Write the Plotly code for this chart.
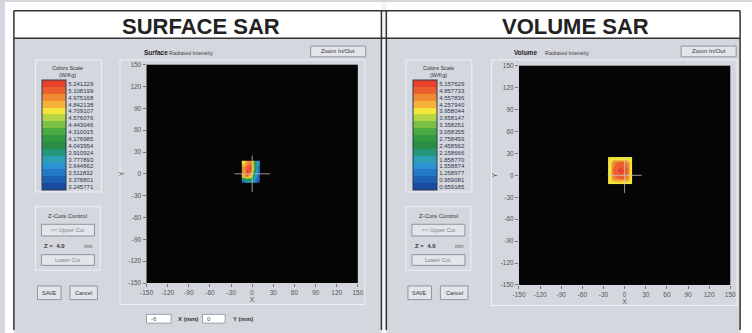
import plotly.graph_objects as go

W, H = 752, 333

# ---------------- data ----------------
surface_x = [-12.2, -7.2, -2.2, 2.8, 7.8]
surface_y = [-9, -3, 3, 9, 15]
surface_z = [
    [3.40, 3.70, 3.95, 3.60, 3.30],
    [4.85, 5.05, 4.65, 3.90, 3.40],
    [4.95, 5.20, 5.10, 4.10, 3.45],
    [4.95, 5.15, 5.24, 4.35, 3.55],
    [4.75, 4.95, 5.05, 4.25, 3.60],
]
surface_labels = [5.241229, 5.108199, 4.975168, 4.842138, 4.709107, 4.576076,
                  4.443046, 4.310015, 4.176985, 4.043954, 3.910924, 3.777893,
                  3.644862, 3.511832, 3.378801, 3.245771]

volume_x = [-21.0, -16.0, -11.0, -6.0, -1.0, 4.0, 8.0]
volume_y = [-9.0, -3.5, 2.0, 7.0, 12.0, 17.5, 22.5]
volume_z = [
    [3.90, 3.98, 4.00, 4.00, 4.00, 3.98, 3.90],
    [3.98, 4.60, 4.70, 4.75, 4.70, 4.60, 3.98],
    [4.00, 4.70, 4.90, 5.00, 4.90, 4.70, 4.00],
    [4.00, 4.75, 5.00, 5.15, 5.00, 4.75, 4.00],
    [4.00, 4.70, 4.90, 5.00, 4.90, 4.70, 4.00],
    [3.98, 4.60, 4.70, 4.75, 4.70, 4.60, 3.98],
    [3.90, 3.98, 4.00, 4.00, 4.00, 3.98, 3.90],
]
volume_labels = [5.157629, 4.857733, 4.557836, 4.257940, 3.958044, 3.658147,
                 3.358251, 3.058355, 2.758459, 2.458562, 2.158666, 1.858770,
                 1.558874, 1.258977, 0.959081, 0.659185]

axis_ticks = [-150, -120, -90, -60, -30, 0, 30, 60, 90, 120, 150]
cross_half = [25, 24]  # crosshair half-length (surface, volume)

# colors, top (high) -> bottom (low)
scale_colors_top = ["#e8412c", "#ec5f2e", "#f08a32", "#f5b23a", "#f3e63a", "#b6d443",
                    "#7cc043", "#4aa940", "#33993f", "#2a8c46", "#26957a", "#2b9fb4",
                    "#2c93d2", "#2279c6", "#1d61b2", "#184b9c"]
scale_colors = scale_colors_top[::-1]

# ---------------- helpers ----------------
def px(x):
    return x / W

def py(y):
    return 1 - y / H

def discrete_scale(cols):
    n = len(cols)
    cs = []
    for i, c in enumerate(cols):
        cs.append([i / n, c])
        cs.append([(i + 1) / n, c])
    return cs

FONT = "Liberation Sans, Arial, sans-serif"
PANEL = "#d4d8de"
BTN = "#e2e5e9"

fig = go.Figure()
shapes = []
annotations = []

def rect(x0, y0, x1, y1, fill=None, line="#9aa1aa", lw=1, layer="below"):
    shapes.append(dict(type="rect", xref="paper", yref="paper",
                       x0=px(x0), x1=px(x1), y0=py(y1), y1=py(y0),
                       fillcolor=fill if fill else "rgba(0,0,0,0)",
                       line=dict(color=line, width=lw), layer=layer))

def line(x0, y0, x1, y1, color="#333", lw=1.5, layer="below"):
    shapes.append(dict(type="line", xref="paper", yref="paper",
                       x0=px(x0), x1=px(x1), y0=py(y0), y1=py(y1),
                       line=dict(color=color, width=lw), layer=layer))

def text(x, y, s, size=7, color="#333", xanchor="center", bold=False):
    if bold:
        s = "<b>" + s + "</b>"
    annotations.append(dict(x=px(x), y=py(y), xref="paper", yref="paper",
                            text=s, showarrow=False, xanchor=xanchor, yanchor="middle",
                            font=dict(family=FONT, size=size, color=color)))

# white areas (paper itself is the grey panel colour)
rect(-2, -2, 760, 35, fill="#ffffff", line="#ffffff", lw=0)
rect(-2, -2, 7, 340, fill="#ffffff", line="#ffffff", lw=0)
rect(746, -2, 760, 340, fill="#ffffff", line="#ffffff", lw=0)
rect(381, -2, 386, 340, fill="#f4f5f6", line="#f4f5f6", lw=0)
line(7, 7, 746, 7)
line(7, 7, 7, 333)
line(746, 7, 746, 333)
line(7, 35, 746, 35)
line(381, 7, 381, 333)
line(386, 7, 386, 333)

text(197, 23, "SURFACE SAR", size=22, color="#222", bold=True)
text(579, 23, "VOLUME SAR", size=22, color="#222", bold=True)

panels = [
    dict(off=0, name="Surface", plot=(142, 357, 62, 285), frame=(115, 366, 57, 307)),
    dict(off=377, name="Volume", plot=(521, 736, 63, 287), frame=(493, 745, 57, 308)),
]

for p in panels:
    o = p["off"]
    # header
    text(137 + o, 50, p["name"], size=6.5, color="#222", xanchor="left", bold=True)
    text(163 + o + (5 if o else 0), 50, "Radiated Intensity", size=5.5, color="#444",
         xanchor="left")
    rect(309 + o, 43, 365 + o, 54, fill=BTN, line="#8e959e")
    text(337 + o, 48.5, "Zoom In/Out", size=6, color="#333")
    # plot frame
    fx0, fx1, fy0, fy1 = p["frame"]
    rect(fx0, fy0, fx1 - 2, fy1, line="#eef0f3", lw=1)
    # colour-scale box
    rect(29 + o, 57, 96 + o, 192, line="#eef0f3", lw=1)
    text(62 + o, 65, "Colors Scale", size=5.5, color="#333")
    text(62 + o, 73, "(W/Kg)", size=5.5, color="#333")
    # Z-cuts box
    rect(29 + o, 207, 95 + o, 272, line="#eef0f3", lw=1)
    text(62 + o, 217, "Z-Cuts Control", size=6, color="#333")
    rect(35 + o, 225, 89 + o, 237, fill=BTN, line="#8e959e")
    text(62 + o, 231, "&lt;&lt; Upper Cut", size=5.5, color="#7d838b")
    text(36 + o, 247, "Z =  4.0", size=6, color="#333", xanchor="left", bold=True)
    text(89 + o, 247, "mm", size=5, color="#555", xanchor="right")
    rect(35 + o, 256, 89 + o, 267, fill=BTN, line="#8e959e")
    text(62 + o, 261.5, "Lower Cut", size=5.5, color="#7d838b")
    # save / cancel
    rect(31 + o, 288, 55 + o, 302, fill=BTN, line="#8e959e")
    text(43 + o, 295, "SAVE", size=5.5, color="#333")
    rect(64 + o, 288, 92 + o, 302, fill=BTN, line="#8e959e")
    text(78 + o, 295, "Cancel", size=5.5, color="#333")

# bottom inputs (surface only)
rect(142, 317, 167, 326, fill="#ffffff", line="#9aa1aa")
text(144, 321.5, "-6", size=6, color="#555", xanchor="left")
text(172, 321.5, "X (mm)", size=6, color="#333", xanchor="left", bold=True)
rect(199, 317, 222, 326, fill="#ffffff", line="#9aa1aa")
text(201, 321.5, "0", size=6, color="#555", xanchor="left")
text(228, 321.5, "Y (mm)", size=6, color="#333", xanchor="left", bold=True)

# ---------------- heatmaps ----------------
datasets = [
    (surface_x, surface_y, surface_z, surface_labels, "x", "y", 0),
    (volume_x, volume_y, volume_z, volume_labels, "x2", "y2", 1),
]
for xs, ys, zs, labels, xa, ya, i in datasets:
    lo, hi = min(labels), max(labels)
    step = (hi - lo) / (len(labels) - 1)
    cb_left = 36 if i == 0 else 413
    fig.add_trace(go.Heatmap(
        x=xs, y=ys, z=zs, xaxis=xa, yaxis=ya,
        colorscale=discrete_scale(scale_colors),
        zmin=lo - step / 2, zmax=hi + step / 2, zsmooth="best",
        hoverinfo="skip",
        colorbar=dict(x=px(cb_left), xanchor="left", xpad=0, ypad=0,
                      y=py(78), yanchor="top", len=110, lenmode="pixels",
                      thickness=24, thicknessmode="pixels",
                      outlinecolor="#2b3a55", outlinewidth=1,
                      tickvals=labels, ticktext=["%.6f" % v for v in labels],
                      ticks="", ticklabelposition="outside",
                      tickfont=dict(family=FONT, size=6, color="#2d3550")),
    ))
    h = cross_half[i]
    for (x0, x1, y0, y1) in [(-h, h, 0, 0), (0, 0, -h, h)]:
        shapes.append(dict(type="line", xref=xa, yref=ya, x0=x0, x1=x1, y0=y0, y1=y1,
                           line=dict(color="rgba(200,200,200,0.75)", width=1),
                           layer="above"))

def axis_common(domain, title):
    return dict(domain=domain, range=[-150, 150], tickvals=axis_ticks,
                ticktext=[str(v) for v in axis_ticks],
                ticks="outside", ticklen=3, tickcolor="#777", showgrid=False,
                zeroline=False, showline=False, fixedrange=True,
                tickfont=dict(family=FONT, size=6.5, color="#555"),
                title=dict(text=title, font=dict(family=FONT, size=7, color="#555"),
                           standoff=2))

p0 = panels[0]["plot"]
p1 = panels[1]["plot"]
fig.update_layout(
    width=W, height=H, margin=dict(l=0, r=0, t=0, b=0),
    paper_bgcolor=PANEL, plot_bgcolor="#050505",
    showlegend=False,
    xaxis=dict(axis_common([px(p0[0]), px(p0[1])], "X"), anchor="y"),
    yaxis=dict(axis_common([py(p0[3]), py(p0[2])], "Y"), anchor="x"),
    xaxis2=dict(axis_common([px(p1[0]), px(p1[1])], "X"), anchor="y2"),
    yaxis2=dict(axis_common([py(p1[3]), py(p1[2])], "Y"), anchor="x2"),
    shapes=shapes, annotations=annotations,
)

fig.write_html("out.html",
               config={"displayModeBar": False, "staticPlot": True},
               post_script="document.body.style.margin='0px';"
                           "document.body.style.overflow='hidden';")
